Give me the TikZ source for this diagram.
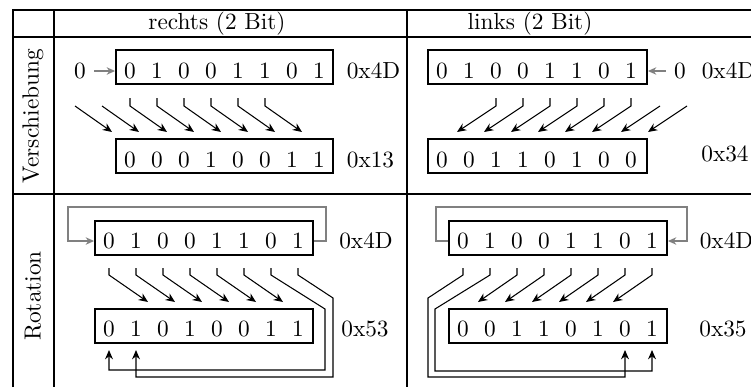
\documentclass[tikz,border=0pt]{standalone}
\usetikzlibrary{arrows.meta,fit,calc}
\begin{document}
\begin{tikzpicture}[x=0.4292pt,y=-0.4292pt,
  bitbox/.style={draw,thick,inner sep=0pt},
  bit/.style={inner sep=0pt},
  hexlabel/.style={inner sep=0pt},
  arr/.style={line width=0.45pt,-{Stealth[length=4pt,width=3.4pt]}},
  grayarr/.style={gray,line width=0.5pt,-{Stealth[length=3.6pt,width=3.2pt]}},
  gridline/.style={line width=0.5pt}]
\useasboundingbox (0,0) rectangle (751,387);
% table
\draw[gridline] (13,387) -- (13,10) -- (751,10);
\draw[gridline] (13,37) -- (751,37);
\draw[gridline] (13,194) -- (751,194);
\draw[gridline] (54,10) -- (54,387);
\draw[gridline] (407,10) -- (407,387);
\node (hr) at (217,24) {rechts (2 Bit)};
\node (hl) at (530,24) {links (2 Bit)};
\node[rotate=90] (lv) at (33,116) {Verschiebung};
\node[rotate=90] (lr) at (33,296) {Rotation};
% ---------- shift right
\node[bitbox,fit={(116,50)(333,84)}] (SLtop) {};
\node[bitbox,fit={(116,139)(333,173)}] (SLbot) {};
\foreach \b [count=\k from 0] in {0,1,0,0,1,1,0,1} \node[bit] (sla\k) at (130+27*\k,71) {\b};
\foreach \b [count=\k from 0] in {0,0,0,1,0,0,1,1} \node[bit] (slb\k) at (130+27*\k,160) {\b};
\node (slzero) at (80,71) {0};
\draw[grayarr] (slzero.east) -- (SLtop.west |- slzero);
\node[hexlabel] (slh1) at (373.5,71) {0x4D};
\node[hexlabel] (slh2) at (370.5,160) {0x13};
\foreach \i in {0,...,5} \draw[arr] ($(sla\i)+(0,27)$) -- ++(0,8) -- ++(37,26);
\foreach \i in {0,1} \draw[arr] ($(sla\i)+(-55,35)$) -- ++(37,26);
% ---------- shift left
\node[bitbox,fit={(428,50)(647,84)}] (SRtop) {};
\node[bitbox,fit={(428,139)(647,173)}] (SRbot) {};
\foreach \b [count=\k from 0] in {0,1,0,0,1,1,0,1} \node[bit] (sra\k) at (442+27*\k,71) {\b};
\foreach \b [count=\k from 0] in {0,0,1,1,0,1,0,0} \node[bit] (srb\k) at (442+27*\k,160) {\b};
\node (srzero) at (680,71) {0};
\draw[grayarr] (srzero.west) -- (SRtop.east |- srzero);
\node[hexlabel] (srh1) at (728.5,71) {0x4D};
\node[hexlabel] (srh2) at (725,154) {0x34};
\foreach \i in {2,...,7} \draw[arr] ($(sra\i)+(0,27)$) -- ++(0,8) -- ++(-39,26);
\foreach \i in {6,7} \draw[arr] ($(sra\i)+(56,35)$) -- ++(-39,26);
% ---------- rotate right
\node[bitbox,fit={(95,221)(313,255)}] (RLtop) {};
\node[bitbox,fit={(95,309)(313,343)}] (RLbot) {};
\foreach \b [count=\k from 0] in {0,1,0,0,1,1,0,1} \node[bit] (rla\k) at (109+27*\k,241) {\b};
\foreach \b [count=\k from 0] in {0,1,0,1,0,0,1,1} \node[bit] (rlb\k) at (109+27*\k,329) {\b};
\node[hexlabel] (rlh1) at (366,241) {0x4D};
\node[hexlabel] (rlh2) at (365,329) {0x53};
\draw[grayarr] (RLtop.east |- rla7) -- (326,241) -- (326,207) -- (68,207) -- (68,241) -- (RLtop.west |- rla0);
\foreach \i in {0,...,5} \draw[arr] ($(rla\i)+(0,27)$) -- ++(0,7) -- ++(39,27);
\draw[arr] ($(rla6)+(0,27)$) -- ++(0,7) -- (325,309) -- (325,370) -| ($(rlb0)+(0,21)$);
\draw[arr] ($(rla7)+(0,27)$) -- ++(0,7) -- (333,298) -- (333,377) -| ($(rlb1)+(0,21)$);
% ---------- rotate left
\node[bitbox,fit={(449,221)(667,255)}] (RRtop) {};
\node[bitbox,fit={(449,309)(667,343)}] (RRbot) {};
\foreach \b [count=\k from 0] in {0,1,0,0,1,1,0,1} \node[bit] (rra\k) at (463+27*\k,241) {\b};
\foreach \b [count=\k from 0] in {0,0,1,1,0,1,0,1} \node[bit] (rrb\k) at (463+27*\k,329) {\b};
\node[hexlabel] (rrh1) at (726.5,241) {0x4D};
\node[hexlabel] (rrh2) at (723,329) {0x35};
\draw[grayarr] (RRtop.west |- rra0) -- (436,241) -- (436,207) -- (687,207) -- (687,241) -- (RRtop.east |- rra7);
\foreach \i in {2,...,7} \draw[arr] ($(rra\i)+(0,27)$) -- ++(0,7) -- ++(-39,27);
\draw[arr] ($(rra0)+(0,27)$) -- ++(0,7) -- (428,298) -- (428,377) -| ($(rrb6)+(0,21)$);
\draw[arr] ($(rra1)+(0,27)$) -- ++(0,7) -- (435,309) -- (435,371) -| ($(rrb7)+(0,21)$);
\end{tikzpicture}
\end{document}
